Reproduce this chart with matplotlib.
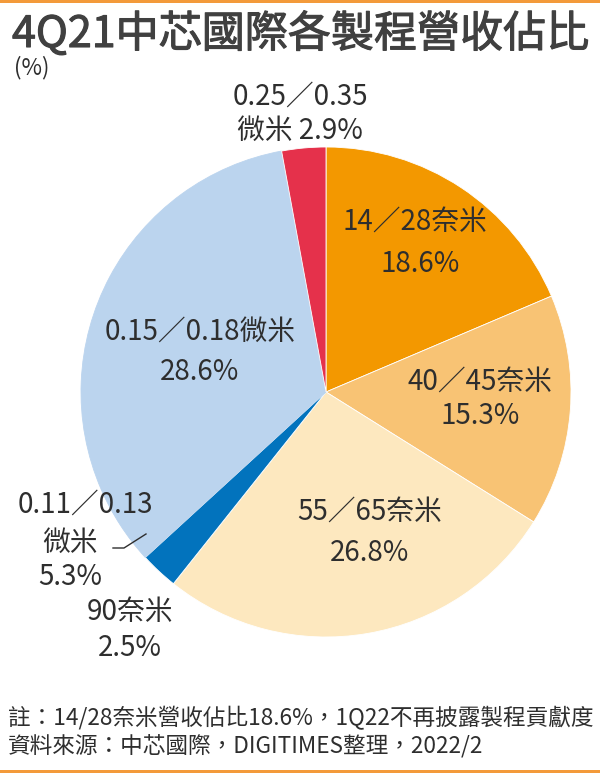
import matplotlib
matplotlib.use('Agg')
import matplotlib.pyplot as plt
import matplotlib.patheffects as pe
from matplotlib.patches import Rectangle

plt.rcParams['font.family'] = ['Noto Sans CJK TC', 'DejaVu Sans']

# data, clockwise from 12 o'clock
processes = ['14／28奈米', '40／45奈米', '55／65奈米', '90奈米',
             '0.11／0.13微米', '0.15／0.18微米', '0.25／0.35微米']
shares = [18.6, 15.3, 26.8, 2.5, 5.3, 28.6, 2.9]
colors = ['#F39800', '#F8C374', '#FDE8BF', '#0273BD',
          '#BBD4EE', '#BBD4EE', '#E5314B']

title = '4Q21中芯國際各製程營收佔比'
unit = '(%)'
note = '註：14/28奈米營收佔比18.6%，1Q22不再披露製程貢獻度'
source = '資料來源：中芯國際，DIGITIMES整理，2022/2'

W, H = 600, 773
fig = plt.figure(figsize=(W / 100, H / 100), dpi=100)
ax = fig.add_axes([0, 0, 1, 1])


def Y(py):
    # pixel row (from top) -> data y
    return H - py


wedges, _ = ax.pie(shares, colors=colors, startangle=90, counterclock=False,
                   center=(326, Y(392)), radius=245,
                   wedgeprops=dict(edgecolor='white', linewidth=0.6))
# the two light blue slices show no seam in the original
for w in wedges[4:6]:
    w.set_edgecolor(w.get_facecolor())

ax.set_xlim(0, W)
ax.set_ylim(0, H)
ax.set_aspect('equal')
ax.axis('off')

txt = '#2e2e2e'
lab = dict(fontsize=20, color=txt, ha='center', va='center')

ax.text(300, Y(97), '0.25／0.35', **lab)
ax.text(300, Y(131), '微米 2.9%', **lab)
ax.text(415, Y(222), '14／28奈米', **lab)
ax.text(420, Y(264), f'{shares[0]}%', **lab)
ax.text(480, Y(382), '40／45奈米', **lab)
ax.text(480, Y(416), f'{shares[1]}%', **lab)
ax.text(370, Y(512), '55／65奈米', **lab)
ax.text(370, Y(553), f'{shares[2]}%', **lab)
ax.text(200, Y(333), '0.15／0.18微米', **lab)
ax.text(200, Y(372), f'{shares[5]}%', **lab)
ax.text(85, Y(505), '0.11／0.13', **lab)
ax.text(70, Y(543), '微米', **lab)
ax.text(70, Y(577), f'{shares[4]}%', **lab)
ax.text(130, Y(612), '90奈米', **lab)
ax.text(130, Y(648), f'{shares[3]}%', **lab)

# leader line for the 0.11/0.13 slice
ax.plot([113, 124, 146], [Y(548), Y(548), Y(534)], color=txt, lw=1)

# title: regular face thickened a little to look like a medium weight
ax.text(12, Y(35), title, fontsize=31, color='#404040', ha='left', va='center',
        path_effects=[pe.withStroke(linewidth=0.8, foreground='#404040')])
ax.text(14, Y(68), unit, fontsize=16, color=txt, ha='left', va='center')
ax.text(8, Y(718), note, fontsize=16.3, color=txt, ha='left', va='center')
ax.text(8, Y(746), source, fontsize=16.3, color=txt, ha='left', va='center')

# orange rules at top and bottom
ax.add_patch(Rectangle((0, Y(3)), W, 3, color='#F39A3A', lw=0))
ax.add_patch(Rectangle((0, 0), W, 3, color='#F39A3A', lw=0))

fig.savefig('out.png', dpi=100, facecolor='white')
